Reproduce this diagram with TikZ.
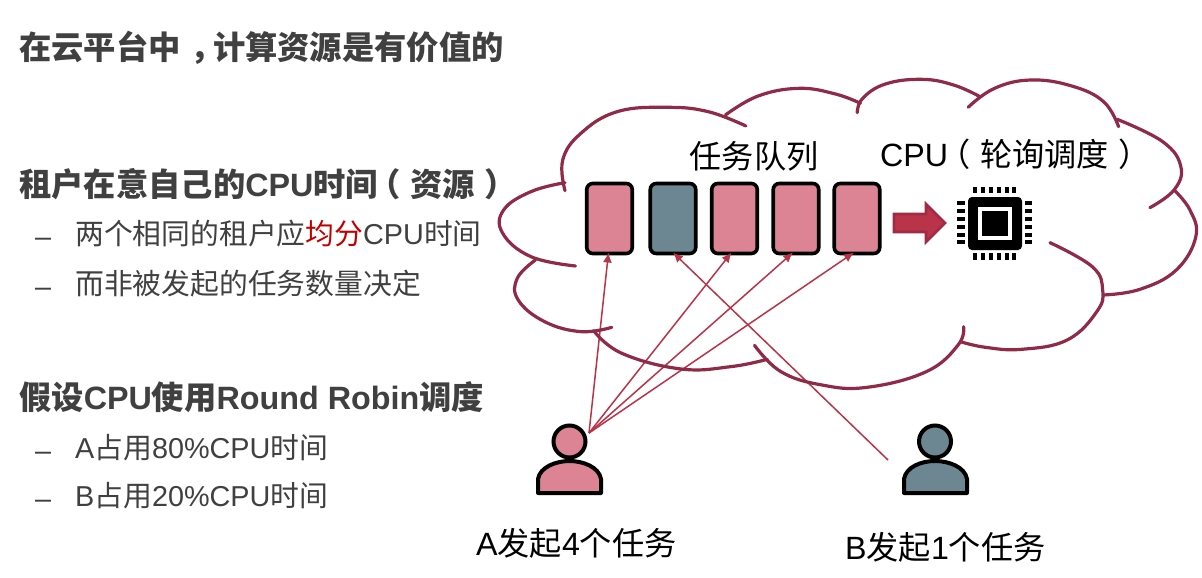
\documentclass[tikz,border=0pt]{standalone}
\usepackage{fontspec}
\setmainfont{Liberation Sans}
\newfontfamily\zhf{Noto Sans CJK SC}
\newcommand\zh[1]{{\zhf #1}}
\newcommand\lp{\kern-.3em（\kern.3em}
\newcommand\rp{\kern.3em）\kern-.3em}
\newcommand\cm{\kern.3em，\kern-.3em}
\usetikzlibrary{arrows.meta,calc}
\definecolor{cloudc}{HTML}{8F2B47}
\definecolor{pinkc}{HTML}{DC8493}
\definecolor{slatec}{HTML}{6C8791}
\definecolor{arrowc}{HTML}{B93349}
\definecolor{arrowd}{HTML}{A02B45}
\definecolor{textg}{HTML}{404040}
\definecolor{redc}{HTML}{C00000}
\tikzset{
  heading/.style={anchor=west,inner sep=0,text=textg,font=\fontsize{32.3}{36}\selectfont\bfseries},
  listitem/.style={anchor=west,inner sep=0,text=textg,font=\fontsize{28.8}{34}\selectfont},
  lbltext/.style={inner sep=0,text=black,font=\fontsize{32.2}{36}\selectfont},
  taskbox/.style={draw=black,line width=3.6pt,rounded corners=6pt,minimum width=45.5pt,minimum height=70pt,inner sep=0,outer sep=0},
  cloudarc/.style={draw=cloudc,line width=3.2pt,line cap=round},
  sendline/.style={draw=arrowc,line width=1.5pt,-{Latex[length=10pt,width=9pt]}},
  userhead/.style={circle,draw=black,line width=4pt,minimum size=32pt,inner sep=0,outer sep=0},
  userbody/.style={draw=black,line width=4pt,line join=round},
  pinbar/.style={fill=black,draw=none}
}
\begin{document}
\begin{tikzpicture}[x=1pt,y=-1pt]
\useasboundingbox (0,0) rectangle (1202,578);
\fill[white] (0,0) rectangle (1202,578);

% left text
\node[heading] (t1) at (19,48) {\zh{在云平台中\cm 计算资源是有价值的}};
\node[heading] (t2) at (19,184) {\zh{租户在意自己的}CPU\zh{时间\lp 资源\rp}};
\node[listitem] (d1) at (35,242) {–};
\node[listitem] (t3) at (75,234) {\zh{两个相同的租户应}{\color{redc}\zh{均分}}CPU\zh{时间}};
\node[listitem] (d2) at (35,292) {–};
\node[listitem] (t4) at (75,284) {\zh{而非被发起的任务数量决定}};
\node[heading] (t5) at (19,397) {\zh{假设}CPU\zh{使用}Round Robin\zh{调度}};
\node[listitem] (d3) at (35,456) {–};
\node[listitem] (t6) at (75,448) {A\zh{占用}80\%CPU\zh{时间}};
\node[listitem] (d4) at (35,504) {–};
\node[listitem] (t7) at (75,496) {B\zh{占用}20\%CPU\zh{时间}};

% task boxes
\node[taskbox,fill=pinkc]  (b1) at (609.5,218.5) {};
\node[taskbox,fill=slatec] (b2) at (673,218.5) {};
\node[taskbox,fill=pinkc]  (b3) at (734.5,218.5) {};
\node[taskbox,fill=pinkc]  (b4) at (796,218.5) {};
\node[taskbox,fill=pinkc]  (b5) at (857,218.5) {};

% users
\node[userhead,fill=pinkc] (ha) at (569.5,441.5) {};
\draw[userbody,fill=pinkc] (538,493) -- (538,479) .. controls (540,467) and (556,461) .. (569.5,461) .. controls (583,461) and (599,467) .. (601,479) -- (601,493) -- cycle;
\node[userhead,fill=slatec] (hb) at (935,441.5) {};
\draw[userbody,fill=slatec] (904,493) -- (904,479) .. controls (906,467) and (921,461) .. (935,461) .. controls (949,461) and (965,467) .. (967,479) -- (967,493) -- cycle;
\coordinate (srca) at (589,433);
\coordinate (srcb) at (888,460);

% connectors
\draw[sendline] (srca) -- ([xshift=-1pt,yshift=1pt]b1.south);
\draw[sendline] (srca) -- ([xshift=-3pt,yshift=1pt]b3.south);
\draw[sendline] (srca) -- ([xshift=-3pt,yshift=1pt]b4.south);
\draw[sendline] (srca) -- ([xshift=-3pt,yshift=1pt]b5.south);
\draw[sendline] (srcb) -- ([yshift=1pt]b2.south);

% cloud
\begin{scope}[shift={(490,70)},x=0.4545pt,y=-0.3333pt]
\draw[cloudarc] plot[smooth,tension=0.7] coordinates {(563,168) (480,125) (390,112) (280,125) (200,190) (160,270) (165,362)};
\draw[cloudarc] plot[smooth,tension=0.7] coordinates {(165,338) (90,365) (30,420) (28,490) (90,560) (188,588)};
\draw[cloudarc] plot[smooth,tension=0.7] coordinates {(100,570) (60,625) (62,690) (120,755) (200,785) (268,772)};
\draw[cloudarc] plot[smooth,tension=0.7] coordinates {(228,782) (290,850) (420,897) (530,890) (610,868)};
\draw[cloudarc] plot[smooth,tension=0.7] coordinates {(582,826) (640,905) (730,945) (830,952) (960,905) (1030,825) (1042,770)};
\draw[cloudarc] plot[smooth,tension=0.7] coordinates {(1035,815) (1090,832) (1170,838) (1270,810) (1335,725) (1348,660) (1325,590) (1232,518)};
\draw[cloudarc] plot[smooth,tension=0.7] coordinates {(1350,675) (1430,658) (1510,600) (1553,500) (1540,420) (1505,360)};
\draw[cloudarc] plot[smooth,tension=0.7] coordinates {(1452,413) (1505,360) (1520,290) (1480,215) (1380,148)};
\draw[cloudarc] plot[smooth,tension=0.7] coordinates {(1383,170) (1350,95) (1280,48) (1190,30) (1110,55) (1052,112)};
\draw[cloudarc] plot[smooth,tension=0.7] coordinates {(1078,80) (1020,45) (950,28) (870,42) (820,85) (808,128)};
\draw[cloudarc] plot[smooth,tension=0.7] coordinates {(815,100) (760,72) (680,55) (590,78) (518,135)};
\end{scope}

% queue to CPU arrow
\draw[draw=arrowd,fill=arrowc,line width=2.6pt,line join=miter] (894,214) -- (926,214) -- (926,204) -- (945,223) -- (926,242) -- (926,232) -- (894,232) -- cycle;

% chip
\fill[black,rounded corners=4pt] (968,197) rectangle (1022,250);
\fill[white] (978,207) rectangle (1012,240);
\fill[black] (982,211) rectangle (1008,236);
\foreach \p in {975.3,983,991,999,1006.7,1014.3}{
  \fill[pinbar] (\p-2,187) rectangle (\p+2,193);
  \fill[pinbar] (\p-2,253) rectangle (\p+2,260);
}
\foreach \p in {203.3,211.3,219,227,234.7,242.3}{
  \fill[pinbar] (957,\p-2) rectangle (965,\p+2);
  \fill[pinbar] (1025,\p-2) rectangle (1032,\p+2);
}

% labels
\node[lbltext] (q) at (754,156) {\zh{任务队列}};
\node[lbltext,anchor=west] (c) at (880,154) {CPU\zh{\lp 轮询调度\rp}};
\node[lbltext,anchor=west] (la) at (476,543) {A\zh{发起}4\zh{个任务}};
\node[lbltext,anchor=west] (lb) at (845,547) {B\zh{发起}1\zh{个任务}};
\end{tikzpicture}
\end{document}
